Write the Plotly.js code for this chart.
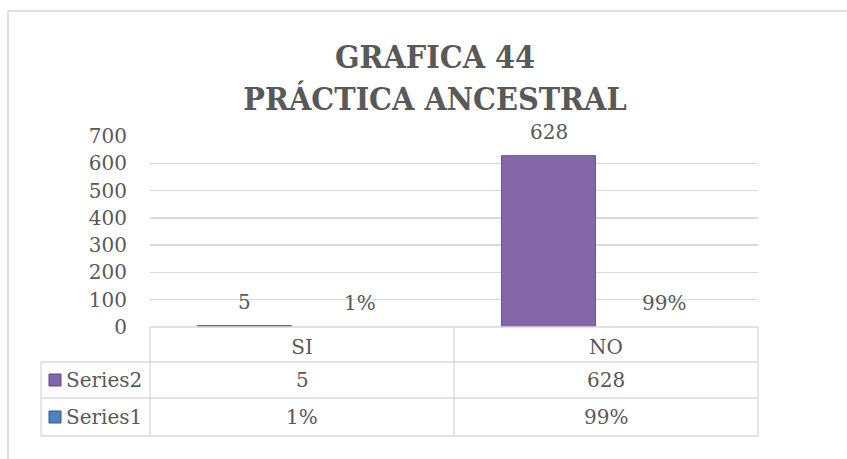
<!DOCTYPE html>
<html>
<head>
<meta charset="utf-8">
<script src="https://cdn.plot.ly/plotly-3.0.1.min.js"></script>
<style>html,body{margin:0;padding:0;background:#fff;}</style>
</head>
<body>
<div id="chart" style="width:847px;height:459px;"></div>
<script>
// ---- data ----
const categories = ['SI', 'NO'];
const seriesNames = ['Series2', 'Series1'];
const series2Values = [5, 628];
const series1Values = [0.01, 0.99];
const series2Labels = ['5', '628'];
const series1Labels = ['1%', '99%'];
const yTickVals = [0, 100, 200, 300, 400, 500, 600, 700];

// ---- styling / geometry ----
const FONT = 'DejaVu Serif, Liberation Serif, serif';
const TITLE_FONT = 'DejaVu Serif Condensed, DejaVu Serif, Liberation Serif, serif';
const TXT = '#595959';
const GRID = '#d9d9d9';
const PURPLE = '#8467a8';
const BLUE = '#4f81bd';

const W = 847, H = 459;
const L = 150, R = 758, T = 136, B = 327;
const px = x => (x - L) / (R - L);
const py = y => (B - y) / (B - T);

const traces = [
  {
    type: 'bar', name: seriesNames[0], x: categories, y: series2Values,
    marker: {color: PURPLE, line: {color: '#6a5290', width: 1}},
    hoverinfo: 'skip', cliponaxis: false
  },
  {
    type: 'bar', name: seriesNames[1], x: categories, y: series1Values,
    marker: {color: BLUE, line: {color: '#3b6390', width: 0}},
    hoverinfo: 'skip', cliponaxis: false
  }
];

const shapes = [];
const annotations = [];
const line = (x0, y0, x1, y1, color, width) => shapes.push({
  type: 'line', xref: 'paper', yref: 'paper',
  x0: px(x0), y0: py(y0), x1: px(x1), y1: py(y1),
  line: {color: color || GRID, width: width || 1.3}
});

// outer chart border (top + left)
line(8, 11, 847, 11, '#e0e0e0', 2);
line(8, 11, 8, 459, '#e0e0e0', 2);

// data table grid
const rowTop = 327, rowH1 = 362, rowH2 = 398, rowBot = 436, tableLeft = 41;
line(L, rowTop, R, rowTop);
line(tableLeft, rowH1, R, rowH1);
line(tableLeft, rowH2, R, rowH2);
line(tableLeft, rowBot, R, rowBot);
line(tableLeft, rowH1, tableLeft, rowBot);
line(L, rowTop, L, rowBot);
line(R, rowTop, R, rowBot);
// category separators through axis scale
for (let i = 0; i < categories.length - 1; i++) {
  shapes.push({type: 'line', xref: 'x', yref: 'paper', x0: i + 0.5, x1: i + 0.5,
    y0: py(rowTop), y1: py(rowBot), line: {color: GRID, width: 1.3}});
}

// table rows: legend key, name, values
const rows = [
  {name: seriesNames[0], labels: series2Labels, color: PURPLE, border: '#5f4785', yc: (rowH1 + rowH2) / 2},
  {name: seriesNames[1], labels: series1Labels, color: BLUE, border: '#2f5a8a', yc: (rowH2 + rowBot) / 2}
];
rows.forEach(r => {
  shapes.push({type: 'rect', xref: 'paper', yref: 'paper',
    x0: px(49), x1: px(61), y0: py(r.yc - 6), y1: py(r.yc + 6),
    fillcolor: r.color, line: {color: r.border, width: 1}});
  annotations.push({xref: 'paper', yref: 'paper', x: px(64), y: py(r.yc),
    xanchor: 'left', yanchor: 'middle', showarrow: false, text: r.name,
    font: {family: FONT, size: 20, color: TXT}});
  r.labels.forEach((t, i) => annotations.push({xref: 'x', yref: 'paper', x: i, y: py(r.yc),
    xanchor: 'center', yanchor: 'middle', showarrow: false, text: t,
    font: {family: FONT, size: 20, color: TXT}}));
});

// data labels above bars
const OFF = 57.5;
[[series2Values, series2Labels, -OFF], [series1Values, series1Labels, OFF]].forEach(([vals, labs, dx]) => {
  vals.forEach((v, i) => annotations.push({xref: 'x', yref: 'y', x: i, y: v,
    xshift: dx, yshift: 24, xanchor: 'center', yanchor: 'middle', showarrow: false,
    text: labs[i], font: {family: FONT, size: 20, color: TXT}}));
});

const layout = {
  width: W, height: H,
  margin: {l: L, r: W - R, t: T, b: H - B, pad: 0},
  paper_bgcolor: '#ffffff', plot_bgcolor: '#ffffff',
  showlegend: false,
  barmode: 'group', bargap: 0.243, bargroupgap: 0.183,
  title: {
    text: 'GRAFICA 44<br>PRÁCTICA ANCESTRAL',
    font: {family: TITLE_FONT, size: 32, color: TXT, weight: 'bold'},
    x: px(435), xref: 'paper', xanchor: 'center',
    y: 1 - 68 / H, yref: 'container', yanchor: 'top'
  },
  xaxis: {
    type: 'category', range: [-0.5, 1.5], showgrid: false, zeroline: false,
    showline: false, ticks: '', ticklabelstandoff: 6,
    tickfont: {family: FONT, size: 20, color: TXT}, fixedrange: true
  },
  yaxis: {
    range: [0, 700], tickvals: yTickVals, showgrid: true, gridcolor: GRID, gridwidth: 1.3,
    zeroline: false, showline: false, ticks: '', ticklabelstandoff: 22,
    tickfont: {family: FONT, size: 20, color: TXT}, fixedrange: true
  },
  shapes: shapes,
  annotations: annotations
};

Plotly.newPlot('chart', traces, layout, {displayModeBar: false, staticPlot: true});
</script>
</body>
</html>
